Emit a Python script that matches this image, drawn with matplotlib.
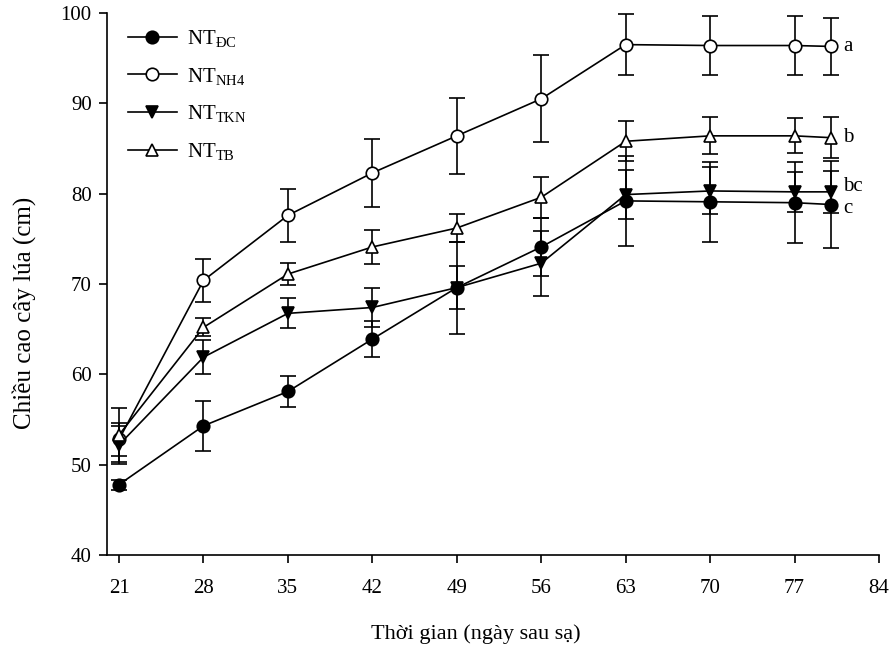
import matplotlib
matplotlib.use("Agg")
import matplotlib.pyplot as plt
from matplotlib.lines import Line2D

plt.rcParams['font.family'] = ['Liberation Serif', 'DejaVu Serif']
plt.rcParams['mathtext.fontset'] = 'custom'
plt.rcParams['mathtext.rm'] = 'Liberation Serif'
plt.rcParams['mathtext.it'] = 'Liberation Serif:italic'
plt.rcParams['mathtext.bf'] = 'Liberation Serif:bold'

# Data (days after sowing)
days = [21, 28, 35, 42, 49, 56, 63, 70, 77, 80]
dc = [47.8, 54.3, 58.1, 63.9, 69.6, 74.1, 79.2, 79.1, 79.0, 78.8]
dc_err = [0.55, 2.8, 1.75, 2.0, 5.1, 3.2, 5.0, 4.45, 4.5, 4.8]
nh4 = [52.8, 70.4, 77.6, 82.3, 86.4, 90.5, 96.5, 96.4, 96.4, 96.3]
nh4_err = [1.8, 2.4, 2.9, 3.8, 4.2, 4.8, 3.4, 3.3, 3.3, 3.2]
tkn = [52.2, 61.9, 66.75, 67.4, 69.6, 72.3, 79.9, 80.3, 80.2, 80.2]
tkn_err = [2.1, 1.9, 1.65, 2.2, 2.4, 3.6, 2.75, 2.6, 2.25, 2.35]
tb = [53.3, 65.2, 71.1, 74.1, 76.2, 79.6, 85.8, 86.4, 86.4, 86.2]
tb_err = [3.0, 1.0, 1.2, 1.9, 1.5, 2.3, 2.2, 2.05, 1.95, 2.3]

labels = [r'NT$_{\mathrm{ĐC}}$', r'NT$_{\mathrm{NH4}}$', r'NT$_{\mathrm{TKN}}$', r'NT$_{\mathrm{TB}}$']
letters = ['c', 'a', 'bc', 'b']
letter_dy = [-3, 0, 4, 0]
xticks = [21, 28, 35, 42, 49, 56, 63, 70, 77, 84]
yticks = [40, 50, 60, 70, 80, 90, 100]

fig = plt.figure(figsize=(8.92, 6.55), dpi=100)
ax = fig.add_axes([107/892, 1-555/655, (879-107)/892, (555-13)/655])

series = [(dc, dc_err, 'o', 'black'), (nh4, nh4_err, 'o', 'white'),
          (tkn, tkn_err, 'v', 'black'), (tb, tb_err, '^', 'white')]
handles = []
for (vals, errs, mk, fc), lab in zip(series, labels):
    ax.errorbar(days, vals, yerr=errs, color='black', lw=1.2, elinewidth=1.2,
                capsize=6, capthick=1.2, marker=mk, markersize=9,
                markerfacecolor=fc, markeredgecolor='black', markeredgewidth=1.2)
    handles.append(Line2D([], [], color='black', lw=1.2, marker=mk, markersize=9,
                          markerfacecolor=fc, markeredgecolor='black',
                          markeredgewidth=1.2, label=lab))

for vals, let, dy in zip([dc, nh4, tkn, tb], letters, letter_dy):
    ax.annotate(let, xy=(days[-1], vals[-1]), xytext=(9, dy), textcoords='offset points',
                ha='left', va='center', fontsize=15)

ax.set_xlim(20, 84)
ax.set_ylim(40, 100)
ax.set_xticks(xticks)
ax.set_yticks(yticks)
ax.spines['top'].set_visible(False)
ax.spines['right'].set_visible(False)
for s in ['left', 'bottom']:
    ax.spines[s].set_linewidth(1.2)
ax.tick_params(direction='out', length=6, width=1.2, labelsize=15)
ax.tick_params(axis='x', pad=11)
ax.tick_params(axis='y', pad=5)

ax.set_xlabel('Thời gian (ngày sau sạ)', fontsize=16)
ax.set_ylabel('Chiều cao cây lúa (cm)', fontsize=18)
ax.xaxis.set_label_coords((476-107)/772, -(624-555)/542)
ax.yaxis.set_label_coords(-(107-36)/772, (555-313)/542)

leg = ax.legend(handles=handles, loc='upper left', bbox_to_anchor=(21/772, 1-15/542),
                frameon=False, fontsize=15, handlelength=2.35, labelspacing=0.8,
                handletextpad=0.5, borderaxespad=0, borderpad=0)
fig.savefig('out.png', dpi=100)
